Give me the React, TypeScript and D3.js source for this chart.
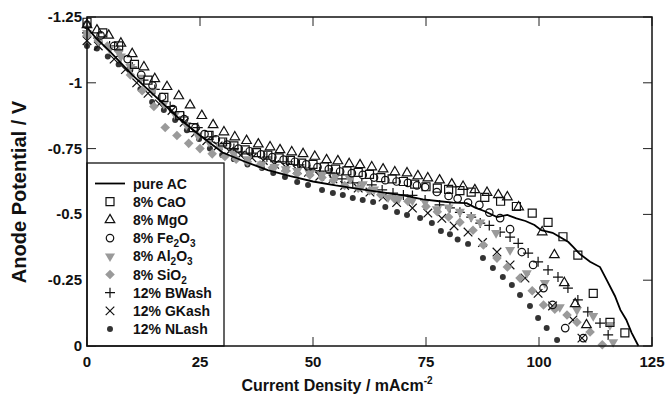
import React from "react";
import * as d3 from "d3";

const W = 669;
const H = 397;

const xTicks = [0, 25, 50, 75, 100, 125];
const xTickLabels = ["0", "25", "50", "75", "100", "125"];
const yTicks = [-1.25, -1, -0.75, -0.5, -0.25, 0];
const yTickLabels = ["-1.25", "-1", "-0.75", "-0.5", "-0.25", "0"];

type P = [number, number];

const pureAC: P[] = [
  [0, -1.21], [2, -1.17], [5, -1.12], [10, -1.03], [15, -0.95], [20, -0.87], [25, -0.8],
  [30, -0.735], [35, -0.7], [40, -0.668], [45, -0.645], [50, -0.625], [55, -0.61], [60, -0.597],
  [65, -0.585], [70, -0.572], [74.3, -0.557], [78, -0.55], [81, -0.545], [84, -0.543], [86, -0.525],
  [88, -0.512], [90.7, -0.49], [93, -0.498], [95, -0.485], [97, -0.475], [99, -0.46], [100.5, -0.44],
  [103, -0.43], [105, -0.41], [106.5, -0.395], [107.6, -0.376], [109, -0.35], [111.3, -0.32],
  [113.5, -0.3], [115, -0.25], [116.8, -0.19], [118, -0.137], [119.3, -0.1], [120.5, -0.05], [122, 0],
];

const caO: P[] = [
  [0, -1.23], [3.5, -1.19], [7, -1.14], [10.5, -1.07], [13.5, -1.01], [17, -0.945], [20.5, -0.875],
  [23.5, -0.83], [27, -0.8], [30, -0.775], [32.5, -0.76], [35, -0.745], [37.5, -0.735], [40, -0.725],
  [42.5, -0.715], [45, -0.705], [47.5, -0.695], [50, -0.69], [52.5, -0.68], [55, -0.672], [57.5, -0.665],
  [60, -0.66], [62.5, -0.652], [65, -0.64], [67.5, -0.635], [70, -0.625], [72.5, -0.615], [75, -0.605],
  [77.5, -0.6], [80, -0.595], [82.5, -0.59], [85, -0.585], [88, -0.565], [91.5, -0.55], [95, -0.53],
  [98.5, -0.505], [102, -0.47], [105.3, -0.415], [108.6, -0.345], [112, -0.2], [115.7, -0.09], [119, -0.05],
];

const mgO: P[] = [
  [0, -1.22], [2.2, -1.2], [4.8, -1.18], [7.5, -1.15], [10, -1.11], [12.6, -1.06], [15, -1.015],
  [17.7, -0.985], [20.3, -0.95], [22.8, -0.915], [25.4, -0.875], [27.9, -0.84], [30.3, -0.813],
  [32.7, -0.794], [35.3, -0.78], [37.9, -0.767], [40.5, -0.756], [42.7, -0.745], [45.3, -0.737],
  [47.8, -0.73], [50.4, -0.72], [53, -0.707], [55.5, -0.703], [58, -0.692], [60.4, -0.688], [63, -0.68],
  [65.5, -0.672], [68.1, -0.661], [70.8, -0.657], [73.2, -0.646], [75.4, -0.638], [78, -0.63],
  [80.7, -0.615], [83.2, -0.606], [85.8, -0.593], [88.5, -0.583], [91, -0.574], [93, -0.566],
  [95.5, -0.528], [100.7, -0.433], [103.4, -0.346], [105.6, -0.24], [108, -0.16], [110.5, -0.08],
];

const fe2O3: P[] = [
  [0, -1.22], [3, -1.18], [6, -1.14], [9, -1.09], [12, -1.03], [14.5, -0.99], [16.6, -0.946], [19, -0.9],
  [21.5, -0.862], [24, -0.83], [26, -0.805], [28.5, -0.785], [31, -0.765], [33.5, -0.75], [36, -0.74],
  [38.5, -0.728], [41, -0.718], [43.5, -0.708], [46, -0.7], [48.5, -0.69], [51, -0.68], [53.5, -0.672],
  [56, -0.663], [58.6, -0.657], [61, -0.65], [63.5, -0.64], [66, -0.63], [68.5, -0.625], [71, -0.62],
  [73, -0.61], [74.8, -0.604], [77.4, -0.585], [80, -0.57], [82, -0.56], [84.3, -0.545], [86.8, -0.536],
  [89, -0.507], [91.4, -0.486], [93.6, -0.444], [96.2, -0.357], [98.7, -0.308], [101, -0.22],
  [103, -0.156], [105.8, -0.068], [109.8, -0.03],
];

const al2O3: P[] = [
  [0, -1.19], [2.5, -1.16], [5, -1.13], [7.5, -1.1], [9.6, -1.06], [12, -1.02], [14.5, -0.97], [17, -0.92],
  [19.5, -0.88], [22, -0.84], [24.5, -0.8], [27, -0.775], [29.5, -0.755], [32.5, -0.73], [35.5, -0.71],
  [38.7, -0.69], [41.5, -0.68], [44, -0.672], [46.5, -0.665], [49.3, -0.655], [52, -0.65], [55, -0.645],
  [58.2, -0.635], [61, -0.615], [63.5, -0.595], [66.6, -0.565], [69, -0.56], [72, -0.553], [74.8, -0.547],
  [77.4, -0.52], [80, -0.527], [82.5, -0.51], [85, -0.49], [87, -0.47], [90.5, -0.43], [93.6, -0.365],
  [97.3, -0.277], [101.3, -0.24], [104.6, -0.148], [108.4, -0.137], [112, -0.114], [115.7, -0.08],
  [116.4, -0.015],
];

const siO2: P[] = [
  [0, -1.18], [2.5, -1.16], [4.5, -1.14], [7, -1.12], [9.6, -1.03], [12.2, -0.97], [14.8, -0.91],
  [17.3, -0.83], [19.9, -0.8], [22.5, -0.77], [25, -0.75], [27.7, -0.73], [30.5, -0.72], [33, -0.71],
  [35.5, -0.7], [38.3, -0.688], [41, -0.677], [44, -0.665], [46.5, -0.655], [49.3, -0.65], [52, -0.64],
  [54.5, -0.63], [57, -0.61], [60, -0.6], [62.5, -0.59], [65, -0.575], [68, -0.56], [71, -0.55],
  [75, -0.53], [77.5, -0.51], [80, -0.49], [82.5, -0.47], [85.4, -0.44], [87.7, -0.384], [90.7, -0.334],
  [93, -0.3], [95.8, -0.258], [98.5, -0.21], [101, -0.156], [103.5, -0.14], [106.2, -0.118],
  [108.4, -0.09], [111.3, -0.053], [114, -0.005],
];

const bWash: P[] = [
  [0, -1.19], [2.5, -1.17], [5, -1.14], [7.5, -1.1], [10, -1.06], [12.5, -1.01], [15, -0.975],
  [18.4, -0.91], [21.4, -0.87], [24.5, -0.83], [27.6, -0.795], [30.5, -0.77], [32.5, -0.75],
  [34.3, -0.737], [36.5, -0.733], [39.8, -0.718], [41.6, -0.7], [44.5, -0.7], [47, -0.688], [49.3, -0.669],
  [51.5, -0.661], [53.8, -0.657], [56.4, -0.635], [58.8, -0.62], [60.8, -0.62], [63, -0.612],
  [65.3, -0.593], [67.7, -0.581], [70, -0.574], [72, -0.572], [74.8, -0.555], [78, -0.536],
  [80.3, -0.525], [82.5, -0.508], [85, -0.49], [87, -0.467], [89, -0.458], [91.4, -0.433], [93.6, -0.414],
  [95.4, -0.39], [97.6, -0.353], [99.8, -0.32], [102, -0.289], [104.2, -0.262], [106.4, -0.22],
  [108.6, -0.175], [110.8, -0.13], [113.5, -0.087], [115.3, -0.042],
];

const gKash: P[] = [
  [0, -1.16], [2.5, -1.14], [6, -1.09], [8.5, -1.05], [11, -1.0], [13.5, -0.96], [16, -0.92],
  [18.8, -0.895], [21.5, -0.85], [24, -0.81], [26.5, -0.78], [29, -0.76], [31.5, -0.74], [34, -0.725],
  [36.5, -0.715], [39, -0.705], [41.5, -0.69], [44, -0.68], [46.5, -0.67], [49, -0.66], [51.5, -0.645],
  [54.4, -0.635], [57, -0.61], [60, -0.6], [62.6, -0.585], [65.5, -0.566], [68.5, -0.545], [72, -0.524],
  [75.4, -0.505], [78.5, -0.485], [81.2, -0.456], [84.3, -0.433], [87.5, -0.393], [90.7, -0.357],
  [93.6, -0.308], [96.9, -0.258], [99.8, -0.2], [103, -0.152], [107.5, -0.099], [109.5, -0.03],
];

const nLash: P[] = [
  [0, -1.14], [2.2, -1.13], [4.6, -1.1], [7, -1.07], [9.6, -1.05], [11.8, -0.976], [14.4, -0.927],
  [17, -0.897], [19.5, -0.859], [22.1, -0.82], [24.8, -0.786], [27.2, -0.75], [29.9, -0.726],
  [32.5, -0.71], [35.5, -0.69], [38.7, -0.676], [41.2, -0.657], [43.8, -0.642], [46.5, -0.623],
  [48.9, -0.612], [52, -0.593], [54.4, -0.581], [56.6, -0.574], [58.8, -0.562], [61, -0.555],
  [63.3, -0.547], [66, -0.528], [68.6, -0.509], [70.8, -0.498], [73.7, -0.486], [76.3, -0.467],
  [78.3, -0.437], [80.3, -0.425], [82, -0.405], [84.3, -0.388], [87.6, -0.334], [89.8, -0.296],
  [92, -0.262], [94, -0.232], [95.8, -0.194], [98, -0.152], [99.8, -0.106], [101.7, -0.068], [104, -0.023],
];

const legendLabels = [
  "pure AC", "8% CaO", "8% MgO", "8% Fe_2O_3", "8% Al_2O_3", "8% SiO_2", "12% BWash", "12% GKash", "12% NLash",
];

const FONT = "'Liberation Sans', Arial, Helvetica, sans-serif";
const GREY = "#9a9a9a";

type Kind = "square" | "triUp" | "circle" | "triDown" | "diamond" | "plus" | "cross" | "dot";

const symPath = (kind: Kind): string => {
  switch (kind) {
    case "square":
      return d3.symbol().type(d3.symbolSquare).size(64)() as string;
    case "triUp":
      return d3.symbol().type(d3.symbolTriangle).size(40)() as string;
    case "triDown":
      return d3.symbol().type(d3.symbolTriangle).size(44)() as string;
    case "circle":
      return d3.symbol().type(d3.symbolCircle).size(44)() as string;
    case "diamond":
      return d3.symbol().type(d3.symbolSquare).size(46)() as string;
    case "dot":
      return d3.symbol().type(d3.symbolCircle).size(28)() as string;
    case "plus": {
      const p = d3.path();
      p.moveTo(-5, 0); p.lineTo(5, 0); p.moveTo(0, -5); p.lineTo(0, 5);
      return p.toString();
    }
    case "cross": {
      const p = d3.path();
      p.moveTo(-4.3, -4.3); p.lineTo(4.3, 4.3); p.moveTo(-4.3, 4.3); p.lineTo(4.3, -4.3);
      return p.toString();
    }
  }
};

const styleFor = (kind: Kind) => {
  switch (kind) {
    case "triDown":
    case "diamond":
      return { fill: GREY, stroke: "none", strokeWidth: 0 };
    case "dot":
      return { fill: "#333", stroke: "none", strokeWidth: 0 };
    default:
      return { fill: "none", stroke: "#111", strokeWidth: 1.2 };
  }
};

const rotFor = (kind: Kind) => (kind === "triDown" ? 180 : kind === "diamond" ? 45 : 0);

const Marker = ({ kind, x, y }: { kind: Kind; x: number; y: number }) => {
  const s = styleFor(kind);
  return (
    <path
      d={symPath(kind)}
      transform={`translate(${x},${y}) rotate(${rotFor(kind)})`}
      fill={s.fill}
      stroke={s.stroke}
      strokeWidth={s.strokeWidth}
    />
  );
};

const renderLabel = (label: string) => {
  const parts = label.split(/_(\d)/);
  const out: React.ReactNode[] = [];
  let down = false;
  parts.forEach((part, i) => {
    if (i % 2 === 1) {
      out.push(
        <tspan key={i} dy={4} fontSize={10}>
          {part}
        </tspan>
      );
      down = true;
    } else if (part.length) {
      out.push(
        <tspan key={i} dy={down ? -4 : 0}>
          {part}
        </tspan>
      );
      down = false;
    }
  });
  return out;
};

export default function App() {
  const left = 87, right = 652, top = 17, bottom = 346;
  const x = d3.scaleLinear().domain([0, 125]).range([left, right]);
  const y = d3.scaleLinear().domain([-1.25, 0]).range([top, bottom]);
  const line = d3.line<P>().x((d) => x(d[0])).y((d) => y(d[1]));

  const series: { data: P[]; kind: Kind }[] = [
    { data: nLash, kind: "dot" },
    { data: gKash, kind: "cross" },
    { data: bWash, kind: "plus" },
    { data: siO2, kind: "diamond" },
    { data: al2O3, kind: "triDown" },
    { data: fe2O3, kind: "circle" },
    { data: mgO, kind: "triUp" },
    { data: caO, kind: "square" },
  ];
  const legendKinds: (Kind | "line")[] = ["line", "square", "triUp", "circle", "triDown", "diamond", "plus", "cross", "dot"];

  const tickLen = 9;
  const lg = { x0: left, y0: 163, x1: 224, y1: bottom };

  return (
    <svg
      width={W}
      height={H}
      style={{ position: "absolute", left: 0, top: 0, background: "#fff" }}
      fontFamily={FONT}
    >
      <rect x={0} y={0} width={W} height={H} fill="#fff" />
      {/* ticks */}
      {xTicks.map((t) => (
        <g key={"xt" + t}>
          <line x1={x(t)} x2={x(t)} y1={bottom} y2={bottom - tickLen} stroke="#222" strokeWidth={1} />
          <line x1={x(t)} x2={x(t)} y1={top} y2={top + tickLen} stroke="#222" strokeWidth={1} />
        </g>
      ))}
      {yTicks.map((t) => (
        <g key={"yt" + t}>
          <line x1={left} x2={left + tickLen} y1={y(t)} y2={y(t)} stroke="#222" strokeWidth={1} />
          <line x1={right} x2={right - tickLen} y1={y(t)} y2={y(t)} stroke="#222" strokeWidth={1} />
        </g>
      ))}
      {/* markers */}
      {series.map((s, si) => (
        <g key={"s" + si}>
          {s.data.map((d, i) => (
            <Marker key={i} kind={s.kind} x={x(d[0])} y={y(d[1])} />
          ))}
        </g>
      ))}
      <path d={line(pureAC) as string} fill="none" stroke="#000" strokeWidth={1.8} />
      {/* legend */}
      <rect x={lg.x0} y={lg.y0} width={lg.x1 - lg.x0} height={lg.y1 - lg.y0} fill="#fff" stroke="#111" strokeWidth={1.3} />
      {legendLabels.map((lab, i) => {
        const ly = 183.5 + i * 18.2;
        const k = legendKinds[i];
        return (
          <g key={"lg" + i}>
            {k === "line" ? (
              <line x1={95} x2={125} y1={ly} y2={ly} stroke="#000" strokeWidth={1.8} />
            ) : (
              <Marker kind={k} x={110} y={ly} />
            )}
            <text x={133} y={ly + 5} fontSize={14} fontWeight="bold" fill="#111">
              {renderLabel(lab)}
            </text>
          </g>
        );
      })}
      {/* frame */}
      <rect x={left} y={top} width={right - left} height={bottom - top} fill="none" stroke="#111" strokeWidth={1.5} />
      {/* tick labels */}
      {xTicks.map((t, i) => (
        <text key={"xl" + t} x={x(t)} y={367} textAnchor="middle" fontSize={15} fontWeight="bold" fill="#111">
          {xTickLabels[i]}
        </text>
      ))}
      {yTicks.map((t, i) => (
        <text key={"yl" + t} x={82} y={y(t) + 5} textAnchor="end" fontSize={15} fontWeight="bold" fill="#111">
          {yTickLabels[i]}
        </text>
      ))}
      {/* axis titles */}
      <text x={337} y={391} textAnchor="middle" fontSize={16} fontWeight="bold" fill="#111">
        Current Density / mAcm
        <tspan dy={-7} fontSize={10}>-2</tspan>
      </text>
      <text
        transform={`translate(26,${192}) rotate(-90)`}
        textAnchor="middle"
        fontSize={20}
        fontWeight="bold"
        fill="#111"
      >
        Anode Potential / V
      </text>
    </svg>
  );
}
